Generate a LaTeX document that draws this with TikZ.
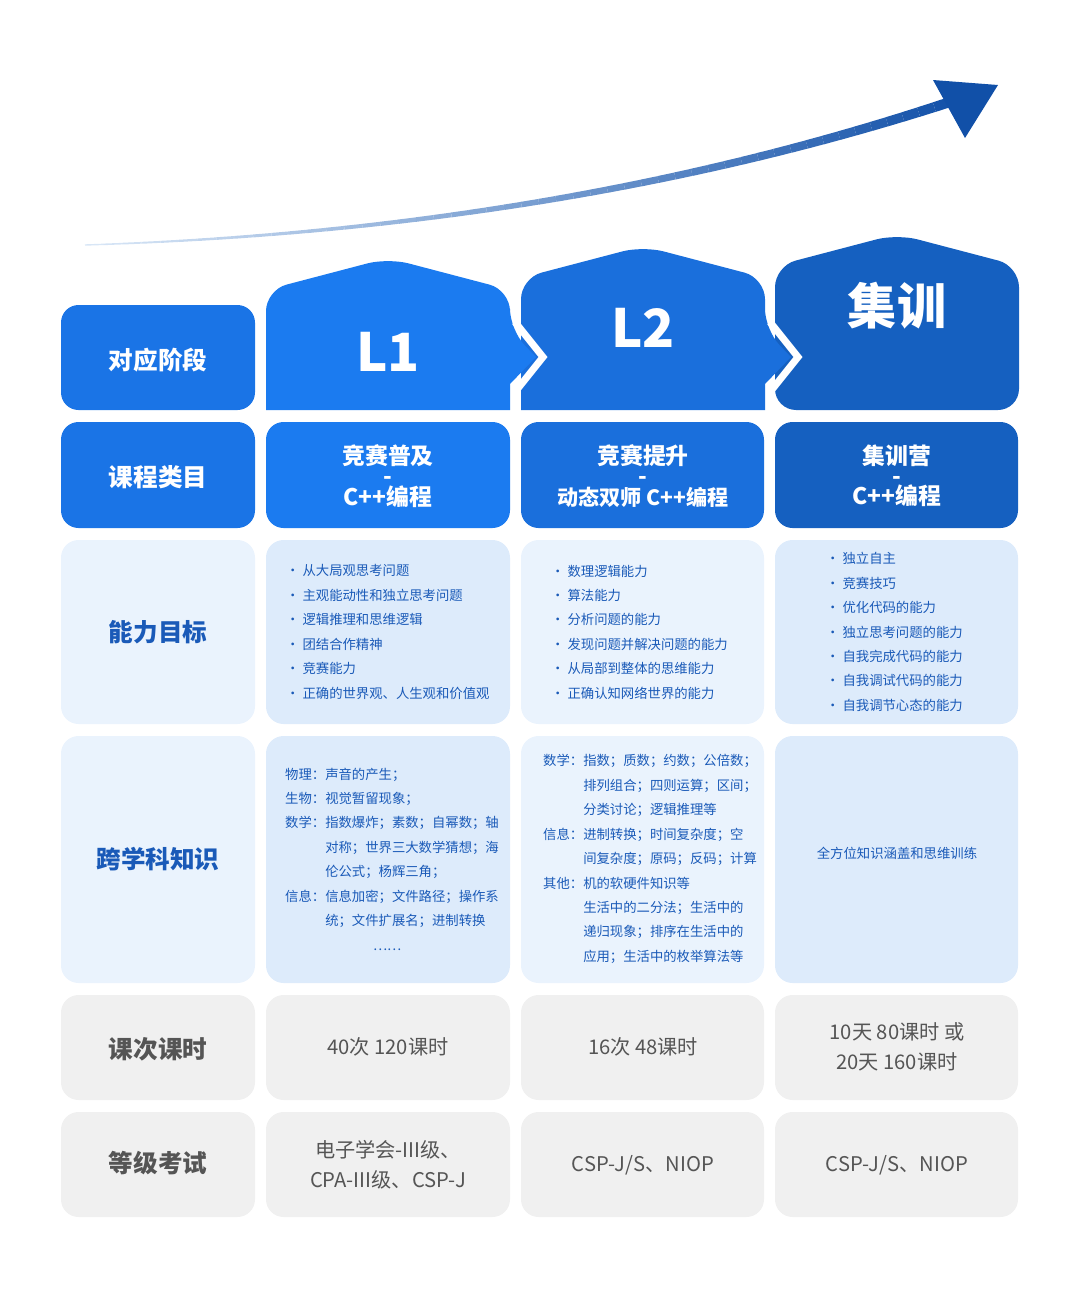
\documentclass[tikz,border=0pt]{standalone}
\usepackage{fontspec}
\setmainfont{Noto Sans CJK SC}
\usetikzlibrary{positioning}
\definecolor{bzero}{HTML}{1A74E6}
\definecolor{bone}{HTML}{1B7BF0}
\definecolor{btwo}{HTML}{1A6FDC}
\definecolor{bthree}{HTML}{1560C0}
\definecolor{lzero}{HTML}{EAF3FD}
\definecolor{lone}{HTML}{DDEBFB}
\definecolor{ltwo}{HTML}{EAF3FD}
\definecolor{gcell}{HTML}{F0F0F0}
\definecolor{ttext}{HTML}{1A5AB8}
\definecolor{gtext}{HTML}{555555}
\definecolor{arlight}{HTML}{D8E6F6}
\definecolor{ardark}{HTML}{1150A8}
\tikzset{
  cellbox/.style={rounded corners=9pt, inner sep=0pt},
  headtxt/.style={text=white, font=\fontsize{14}{17}\selectfont\bfseries, align=center},
  coursetxt/.style={text=white, font=\fontsize{13}{11.5}\selectfont\bfseries, align=center},
  rowtxt/.style={text=ttext, font=\fontsize{14}{17}\selectfont\bfseries},
  graytxt/.style={text=gtext, font=\fontsize{14}{17}\selectfont\bfseries},
  smalltxt/.style={text=ttext, font=\fontsize{7.6}{13.9}\selectfont, align=left},
  hourtxt/.style={text=gtext, font=\fontsize{11.5}{17}\selectfont, align=center}
}
\newcommand{\ind}{\phantom{数学：}}
\begin{document}
\begin{tikzpicture}[x=0.02cm,y=-0.02cm]
\useasboundingbox (0,0) rectangle (1080,1296);

% Rising arrow
\foreach \i in {0,...,49}{
  \pgfmathsetmacro{\ta}{\i/50}
  \pgfmathsetmacro{\tb}{(\i+1)/50}
  \pgfmathsetmacro{\pc}{100*\ta}
  \pgfmathsetmacro{\lw}{0.8+5*\ta}
  \colorlet{segcol}{ardark!\pc!arlight}
  \draw[segcol, line width=\lw pt]
    ({(1-\ta)^2*85+2*(1-\ta)*\ta*560+\ta^2*950},{(1-\ta)^2*245+2*(1-\ta)*\ta*230+\ta^2*102})
    -- ({(1-\tb)^2*85+2*(1-\tb)*\tb*560+\tb^2*950},{(1-\tb)^2*245+2*(1-\tb)*\tb*230+\tb^2*102});
}
\fill[ardark] (933,80) -- (998,85) -- (965,138) -- cycle;

% Header shapes
\fill[bthree, rounded corners=12pt] (775,410) -- (775,266) -- (897,234) -- (1019,266) -- (1019,410) -- cycle;
\fill[btwo, rounded corners=12pt] (521,410) -- (521,278) -- (643,246) -- (765,278) -- (765,330) [sharp corners] -- (791,357) -- (765,384) -- (765,410) -- cycle;
\draw[white, line width=4pt] (770,322) -- (798,357) -- (770,392);
\fill[bone, rounded corners=12pt] (266,410) -- (266,290) -- (388,258) -- (510,290) -- (510,330) [sharp corners] -- (536,357) -- (510,384) -- (510,410) -- cycle;
\draw[white, line width=4pt] (515,322) -- (543,357) -- (515,392);

\node[headtxt, font=\fontsize{30}{34}\selectfont\bfseries] (lone) at (388,352) {L1};
\node[headtxt, font=\fontsize{30}{34}\selectfont\bfseries] (ltwo) at (643,328) {L2};
\node[headtxt, font=\fontsize{28}{34}\selectfont\bfseries] (camp) at (897,306) {集训};

% Row backgrounds
\foreach \ya/\yb/\c in {305/410/bzero, 422/528/bzero, 540/724/lzero, 736/983/lzero, 995/1100/gcell, 1112/1217/gcell}{
  \fill[\c, rounded corners=10pt] (61,\ya) rectangle (255,\yb);
}
\fill[bone, rounded corners=10pt] (266,422) rectangle (510,528);
\fill[btwo, rounded corners=10pt] (521,422) rectangle (764,528);
\fill[bthree, rounded corners=10pt] (775,422) rectangle (1018,528);
\foreach \ya/\yb in {540/724, 736/983}{
  \fill[lone, rounded corners=10pt] (266,\ya) rectangle (510,\yb);
  \fill[ltwo, rounded corners=10pt] (521,\ya) rectangle (764,\yb);
  \fill[lone, rounded corners=10pt] (775,\ya) rectangle (1018,\yb);
}
\foreach \ya/\yb in {995/1100, 1112/1217}{
  \fill[gcell, rounded corners=10pt] (266,\ya) rectangle (510,\yb);
  \fill[gcell, rounded corners=10pt] (521,\ya) rectangle (764,\yb);
  \fill[gcell, rounded corners=10pt] (775,\ya) rectangle (1018,\yb);
}

% Row titles
\node[headtxt] (stage) at (158,360) {对应阶段};
\node[headtxt] (course) at (158,477) {课程类目};
\node[rowtxt] (skill) at (158,632) {能力目标};
\node[rowtxt] (cross) at (158,859) {跨学科知识};
\node[graytxt] (hours) at (158,1049) {课次课时};
\node[graytxt] (exam) at (158,1163) {等级考试};

% Course names
\node[coursetxt] (cone) at (388,476) {竞赛普及\\-\\C++编程};
\node[coursetxt] (ctwo) at (643,476) {竞赛提升\\-\\\fontsize{12}{11.5}\selectfont 动态双师 C++编程};
\node[coursetxt] (cthree) at (897,476) {集训营\\-\\C++编程};

% Skills
\node[smalltxt, anchor=west] (sone) at (280,632) {•\ 从大局观思考问题\\•\ 主观能动性和独立思考问题\\•\ 逻辑推理和思维逻辑\\•\ 团结合作精神\\•\ 竞赛能力\\•\ 正确的世界观、人生观和价值观};
\node[smalltxt, anchor=west] (stwo) at (545,632) {•\ 数理逻辑能力\\•\ 算法能力\\•\ 分析问题的能力\\•\ 发现问题并解决问题的能力\\•\ 从局部到整体的思维能力\\•\ 正确认知网络世界的能力};
\node[smalltxt, anchor=west] (sthree) at (820,632) {•\ 独立自主\\•\ 竞赛技巧\\•\ 优化代码的能力\\•\ 独立思考问题的能力\\•\ 自我完成代码的能力\\•\ 自我调试代码的能力\\•\ 自我调节心态的能力};

% Cross-subject knowledge
\node[smalltxt, anchor=west] (kone) at (279,859) {物理：声音的产生；\\生物：视觉暂留现象；\\数学：指数爆炸；素数；自幂数；轴\\\ind 对称；世界三大数学猜想；海\\\ind 伦公式；杨辉三角；\\信息：信息加密；文件路径；操作系\\\ind 统；文件扩展名；进制转换\\\hspace{50pt}……};
\node[smalltxt, anchor=west] (ktwo) at (537,859) {数学：指数；质数；约数；公倍数；\\\ind 排列组合；四则运算；区间；\\\ind 分类讨论；逻辑推理等\\信息：进制转换；时间复杂度；空\\\ind 间复杂度；原码；反码；计算\\其他：机的软硬件知识等\\\ind 生活中的二分法；生活中的\\\ind 递归现象；排序在生活中的\\\ind 应用；生活中的枚举算法等};
\node[smalltxt, align=center] (kthree) at (897,853) {全方位知识涵盖和思维训练};

% Hours and exams
\node[hourtxt] (hone) at (388,1047) {40次 120课时};
\node[hourtxt] (htwo) at (643,1047) {16次 48课时};
\node[hourtxt] (hthree) at (897,1047) {10天 80课时 或\\20天 160课时};
\node[hourtxt] (eone) at (388,1165) {电子学会-III级、\\CPA-III级、CSP-J};
\node[hourtxt] (etwo) at (643,1165) {CSP-J/S、NIOP};
\node[hourtxt] (ethree) at (897,1165) {CSP-J/S、NIOP};
\end{tikzpicture}
\end{document}
